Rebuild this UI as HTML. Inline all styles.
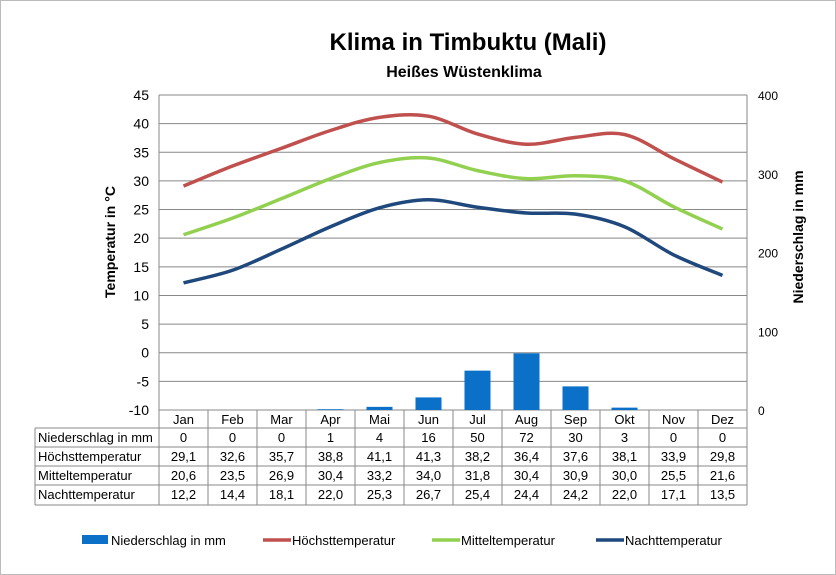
<!DOCTYPE html>
<html><head><meta charset="utf-8"><style>
body{margin:0;background:#fff;}
svg{display:block;font-family:"Liberation Sans",Arial,sans-serif;}
</style></head><body>
<svg id="c" width="836" height="575" viewBox="0 0 836 575" xmlns="http://www.w3.org/2000/svg">
<rect x="0.5" y="0.5" width="835" height="574" fill="#fff" stroke="#bbb"/>
<text x="468" y="50" text-anchor="middle" font-size="24" font-weight="bold">Klima in Timbuktu (Mali)</text>
<text x="464" y="77" text-anchor="middle" font-size="16" font-weight="bold">Heißes Wüstenklima</text>
<text transform="translate(115,242) rotate(-90)" text-anchor="middle" font-size="14" font-weight="bold">Temperatur in °C</text>
<text transform="translate(803,237) rotate(-90)" text-anchor="middle" font-size="14" font-weight="bold">Niederschlag in mm</text>
<g id="g"></g>
</svg>
<script>
const months=["Jan","Feb","Mar","Apr","Mai","Jun","Jul","Aug","Sep","Okt","Nov","Dez"];
const precip=[0,0,0,1,4,16,50,72,30,3,0,0];
const tmax=[29.1,32.6,35.7,38.8,41.1,41.3,38.2,36.4,37.6,38.1,33.9,29.8];
const tmean=[20.6,23.5,26.9,30.4,33.2,34.0,31.8,30.4,30.9,30.0,25.5,21.6];
const tmin=[12.2,14.4,18.1,22.0,25.3,26.7,25.4,24.4,24.2,22.0,17.1,13.5];
const leftTicks=[45,40,35,30,25,20,15,10,5,0,-5,-10];
const rightTicks=[400,300,200,100,0];
const precipPrint=["0","0","0","1","4","16","50","72","30","3","0","0"];

const X0=159,CW=49,TOP=95,BOT=410;
const ns="http://www.w3.org/2000/svg";
const g=document.getElementById('g');
function yT(v){return BOT-(v+10)/55*(BOT-TOP);}
function yP(v){return BOT-v/400*(BOT-TOP);}
function xC(i){return X0+CW*(i+0.5);}
function mk(tag,attrs,txt){const e=document.createElementNS(ns,tag);for(const k in attrs)e.setAttribute(k,attrs[k]);if(txt!==undefined)e.textContent=txt;g.appendChild(e);return e;}
const fmt=v=>v.toFixed(1).replace('.',',');

leftTicks.forEach(t=>{
  const l=mk('line',{x1:X0,x2:X0+CW*12,y1:yT(t),y2:yT(t),stroke:'#888','stroke-width':1});
  
  
  const tx=mk('text',{x:149,y:yT(t)+5,'text-anchor':'end','font-size':14},String(t));
  
  
});
rightTicks.forEach(t=>{
  const tx=mk('text',{x:758,y:yP(t)+5,'font-size':12},String(t));
  
  
});
const ax=mk('line',{x1:X0,x2:X0,y1:TOP,y2:BOT,stroke:'#888'});


const ax2=mk('line',{x1:X0+CW*12,x2:X0+CW*12,y1:TOP,y2:BOT,stroke:'#888'});



precip.forEach((v,i)=>{
  const r=mk('rect',{x:xC(i)-13,y:yP(v),width:26,height:BOT-yP(v),fill:'#0a70c8'});
  
  
});

function smooth(vals){
  const p=vals.map((v,i)=>[xC(i),yT(v)]);
  let d='M'+p[0][0]+','+p[0][1];
  for(let i=0;i<p.length-1;i++){
    const p0=p[i-1]||p[i],p1=p[i],p2=p[i+1],p3=p[i+2]||p2;
    const c1=[p1[0]+(p2[0]-p0[0])/6,p1[1]+(p2[1]-p0[1])/6];
    const c2=[p2[0]-(p3[0]-p1[0])/6,p2[1]-(p3[1]-p1[1])/6];
    d+=' C'+c1+' '+c2+' '+p2;
  }
  return d;
}
[[tmax,'#c0504d','line-max-temp'],[tmean,'#92d050','line-mean-temp'],[tmin,'#1f497d','line-night-temp']].forEach(([s,c,n])=>{
  const p=mk('path',{d:smooth(s),fill:'none',stroke:c,'stroke-width':3.5});
  
  
});

// table
const rows=[["Niederschlag in mm",precipPrint],["Höchsttemperatur",tmax.map(fmt)],["Mitteltemperatur",tmean.map(fmt)],["Nachttemperatur",tmin.map(fmt)]];
const RY=[410,428,447,466,485,505];
const TL=35,TR=X0+CW*12;
for(let i=0;i<=12;i++){
  const l=mk('line',{x1:X0+CW*i,x2:X0+CW*i,y1:410,y2:505,stroke:'#888'});
  
  
}
for(let r=1;r<RY.length;r++){
  const l=mk('line',{x1:TL,x2:TR,y1:RY[r],y2:RY[r],stroke:'#888'});
  
  
}
const lv=mk('line',{x1:TL,x2:TL,y1:428,y2:505,stroke:'#888'});


months.forEach((m,i)=>{
  const t=mk('text',{x:xC(i),y:424,'text-anchor':'middle','font-size':13},m);
  
  
});
rows.forEach((row,r)=>{
  const t=mk('text',{x:TL+3,y:RY[r+1]+14,'font-size':13},row[0]);
  
  
  row[1].forEach((v,i)=>{
    const c=mk('text',{x:xC(i),y:RY[r+1]+14,'text-anchor':'middle','font-size':13},v);
    
    
  });
});

// legend
const leg=[["Niederschlag in mm",'#0a70c8',82,true],["Höchsttemperatur",'#c0504d',263,false],["Mitteltemperatur",'#92d050',432,false],["Nachttemperatur",'#1f497d',596,false]];
leg.forEach(([n,c,x,bar])=>{
  let s;
  if(bar) s=mk('rect',{x:x,y:535,width:26,height:9,fill:c});
  else s=mk('line',{x1:x,x2:x+28,y1:540,y2:540,stroke:c,'stroke-width':3.5});
  
  
  const t=mk('text',{x:x+29,y:545,'font-size':13},n);
  
  
});
</script>
</body></html>
